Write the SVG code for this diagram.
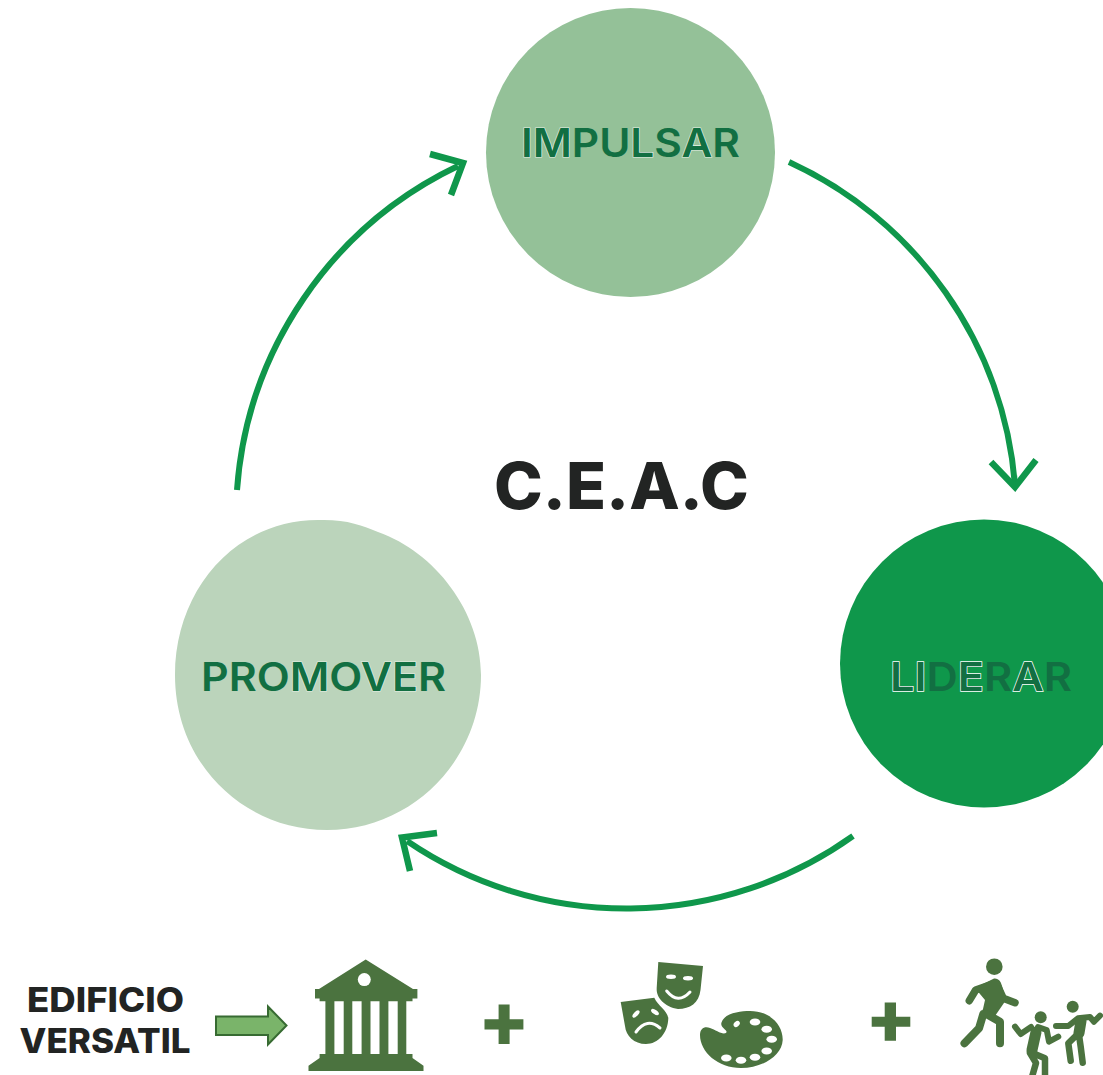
<svg xmlns="http://www.w3.org/2000/svg" width="1103" height="1075" viewBox="0 0 1103 1075">
<style>
.lbl{font-family:Inter,"Liberation Sans",sans-serif;font-weight:600;font-size:39px;fill:#126f42}
.ol{stroke:#fff;stroke-width:1.3px;paint-order:stroke}
.olp{stroke:#e6f0e6;stroke-width:1.2px;paint-order:stroke}
.blk{font-family:Inter,"Liberation Sans",sans-serif;font-weight:800;fill:#222423}
.arc{fill:none;stroke:#0f974b;stroke-width:6}
.head{fill:none;stroke:#0f974b;stroke-width:6.500;stroke-linejoin:miter;stroke-miterlimit:10}
.ic{fill:#4b733f}
.st{fill:none;stroke:#4b733f;stroke-linecap:round;stroke-linejoin:round}
.wh{fill:#fff}
.wl{fill:none;stroke:#fff;stroke-width:3;stroke-linecap:round}
</style>
<rect width="1103" height="1075" fill="#fff"/>
<g id="connectors">
<path class="arc" d="M789 162A390 390 0 0 1 1015 485"/>
<path class="head" d="M991 462L1015 487L1036 460"/>
<path class="arc" d="M853 836A390 390 0 0 1 407 841"/>
<path class="head" d="M437 833L402 837.500L410 871"/>
<path class="arc" d="M237 490A390 390 0 0 1 458 166"/>
<path class="head" d="M430 154L463 163L451 195"/>
</g>
<g id="node-impulsar">
<circle cx="630.500" cy="152.500" r="144.500" fill="#94c198"/>
<text class="lbl" x="521" y="157" textLength="219" lengthAdjust="spacingAndGlyphs"><tspan class="olp">IM</tspan>PU<tspan class="olp">L</tspan>S<tspan class="olp">A</tspan>R</text>
</g>
<g id="node-liderar">
<circle cx="984" cy="663.500" r="144" fill="#0f974b"/>
<text class="lbl" x="890" y="691" textLength="182" lengthAdjust="spacingAndGlyphs"><tspan class="ol">LI</tspan>D<tspan class="ol">E</tspan>R<tspan class="ol">A</tspan>R</text>
</g>
<g id="node-promover">
<path fill="#bbd4bb" d="M318 520C345 519 362 525 378 532C435 552 481 612 481 675C481 760 412 830 327 830C245 830 175 765 175 675C175 590 235 520 318 520Z"/>
<text class="lbl" x="201" y="691" textLength="245" lengthAdjust="spacingAndGlyphs">PRO<tspan class="olp">M</tspan>O<tspan class="olp">VE</tspan>R</text>
</g>
<g id="title">
<text class="blk" x="494" y="509" font-size="65" textLength="255" lengthAdjust="spacingAndGlyphs">C.E.A.C</text>
</g>
<g id="edificio-label">
<text class="blk" x="27" y="1012" font-size="33.500" textLength="157" lengthAdjust="spacingAndGlyphs">EDIFICIO</text>
<text class="blk" x="19.500" y="1053" font-size="33.500" textLength="171" lengthAdjust="spacingAndGlyphs">VERSATIL</text>
</g>
<g id="arrow-block">
<path fill="#7ab46a" stroke="#376b32" stroke-width="2" d="M216 1016.500H268V1006.500L286.500 1025.500L268 1044.500V1035H216Z"/>
</g>
<g id="icon-building">
<path class="ic" fill-rule="evenodd" d="M365.700 959.600L413 989H417.400V998.500H412.500V1001.300H406.300V1054H412.500V1058L423.500 1065.700V1071H308.500V1065.700L319.600 1058V1054H325.400V1001.300H319.600V998.500H315V989H319ZM334.400 1001.300V1054H343.700V1001.300ZM352.300 1001.300V1054H361.600V1001.300ZM370.500 1001.300V1054H379.500V1001.300ZM388.400 1001.300V1054H397.700V1001.300Z"/>
<circle class="wh" cx="364.300" cy="979.600" r="6.500"/>
</g>
<g id="plus-1">
<path class="ic" d="M498.600 1004.500H509.600V1019.200H523.400V1029.500H509.600V1044H498.600V1029.500H484.500V1019.200H498.600Z"/>
</g>
<g id="icon-arts">
<path class="ic" d="M658.300 962L703 966L700.500 990C699 1003 690 1009 678 1009C665 1007 656 998 656.700 988Z"/>
<ellipse class="wh" cx="671" cy="976.700" rx="5" ry="2.200"/>
<ellipse class="wh" cx="688" cy="978.300" rx="5" ry="2.200"/>
<path class="wl" d="M666.700 991Q678 1005 690 992"/>
<path class="ic" d="M620.700 1002L654.300 997.700C658 1006 667 1010 668.300 1018C668 1033 658 1044 646 1044C634 1044 626 1036 625 1026Z"/>
<ellipse class="wh" cx="636" cy="1014" rx="4.500" ry="2.200" transform="rotate(-45 636 1014)"/>
<ellipse class="wh" cx="655" cy="1012" rx="4.500" ry="2.200" transform="rotate(35 655 1012)"/>
<path class="wl" d="M636 1032Q647 1017 660 1028"/>
<path class="ic" d="M721.700 1022C725 1013 740 1011 750 1011C770 1011 783 1025 782.700 1040C782 1056 762 1068 741 1068C718 1068 700 1052 700 1035C700 1028 705 1026 710 1028C716 1030 722 1035 726 1033C729 1030 719 1028 721.700 1022Z"/>
<ellipse class="wh" cx="736.700" cy="1024" rx="3.500" ry="2.500" transform="rotate(-40 736.700 1024)"/>
<ellipse class="wh" cx="755" cy="1022" rx="5.300" ry="3.500"/>
<ellipse class="wh" cx="766.700" cy="1029.300" rx="5.300" ry="3.500"/>
<ellipse class="wh" cx="771.700" cy="1039.300" rx="5.300" ry="3.500"/>
<ellipse class="wh" cx="766.700" cy="1051" rx="5.300" ry="3.500"/>
<ellipse class="wh" cx="755" cy="1057.300" rx="5.300" ry="3.500"/>
<ellipse class="wh" cx="741" cy="1060.300" rx="5.300" ry="3.500"/>
<ellipse class="wh" cx="726.300" cy="1058" rx="5.300" ry="3.500"/>
</g>
<g id="plus-2">
<path class="ic" d="M884.700 1002.500H896V1016.700H910.300V1026.700H896V1040.700H884.700V1026.700H871.700V1016.700H884.700Z"/>
</g>
<g id="icon-people">
<circle class="ic" cx="994.300" cy="966.700" r="8.300"/>
<path class="st" stroke-width="7.500" d="M992.700 984L975.700 990L969.300 1000.700M996.700 984L1003.300 998.300L1015 1002.700"/>
<path class="ic" d="M975 988L994 978.500C999 978 1001 982 1002 986L1006 1000L995 1016L981 1018L985 1000Z"/>
<path class="st" stroke-width="8" d="M983.300 1014L979 1028.300L964.500 1043.300M985 1013.300L1000 1021.700V1043.300"/>
<circle class="ic" cx="1040.700" cy="1017.300" r="6"/>
<path class="st" stroke-width="6" d="M1015 1026.700L1020.700 1034L1031 1027M1038 1027L1046.700 1030L1049 1041.700L1058.300 1036.700"/>
<path class="st" stroke-width="11" d="M1036 1032L1032 1050"/>
<path class="st" stroke-width="6.500" d="M1030 1053L1036 1063L1031.700 1078M1030 1052L1045 1058.300V1078"/>
<circle class="ic" cx="1072.700" cy="1006.700" r="6"/>
<path class="st" stroke-width="6" d="M1056 1026H1068.300L1078 1018.300L1090 1017L1094 1021.700L1100 1015.700"/>
<path class="st" stroke-width="11" d="M1081 1021L1079 1033"/>
<path class="st" stroke-width="6.500" d="M1076.700 1035L1068.300 1043.300L1070.700 1060.700M1079 1035L1080.700 1046.700L1082.700 1062.700"/>
</g>
</svg>
